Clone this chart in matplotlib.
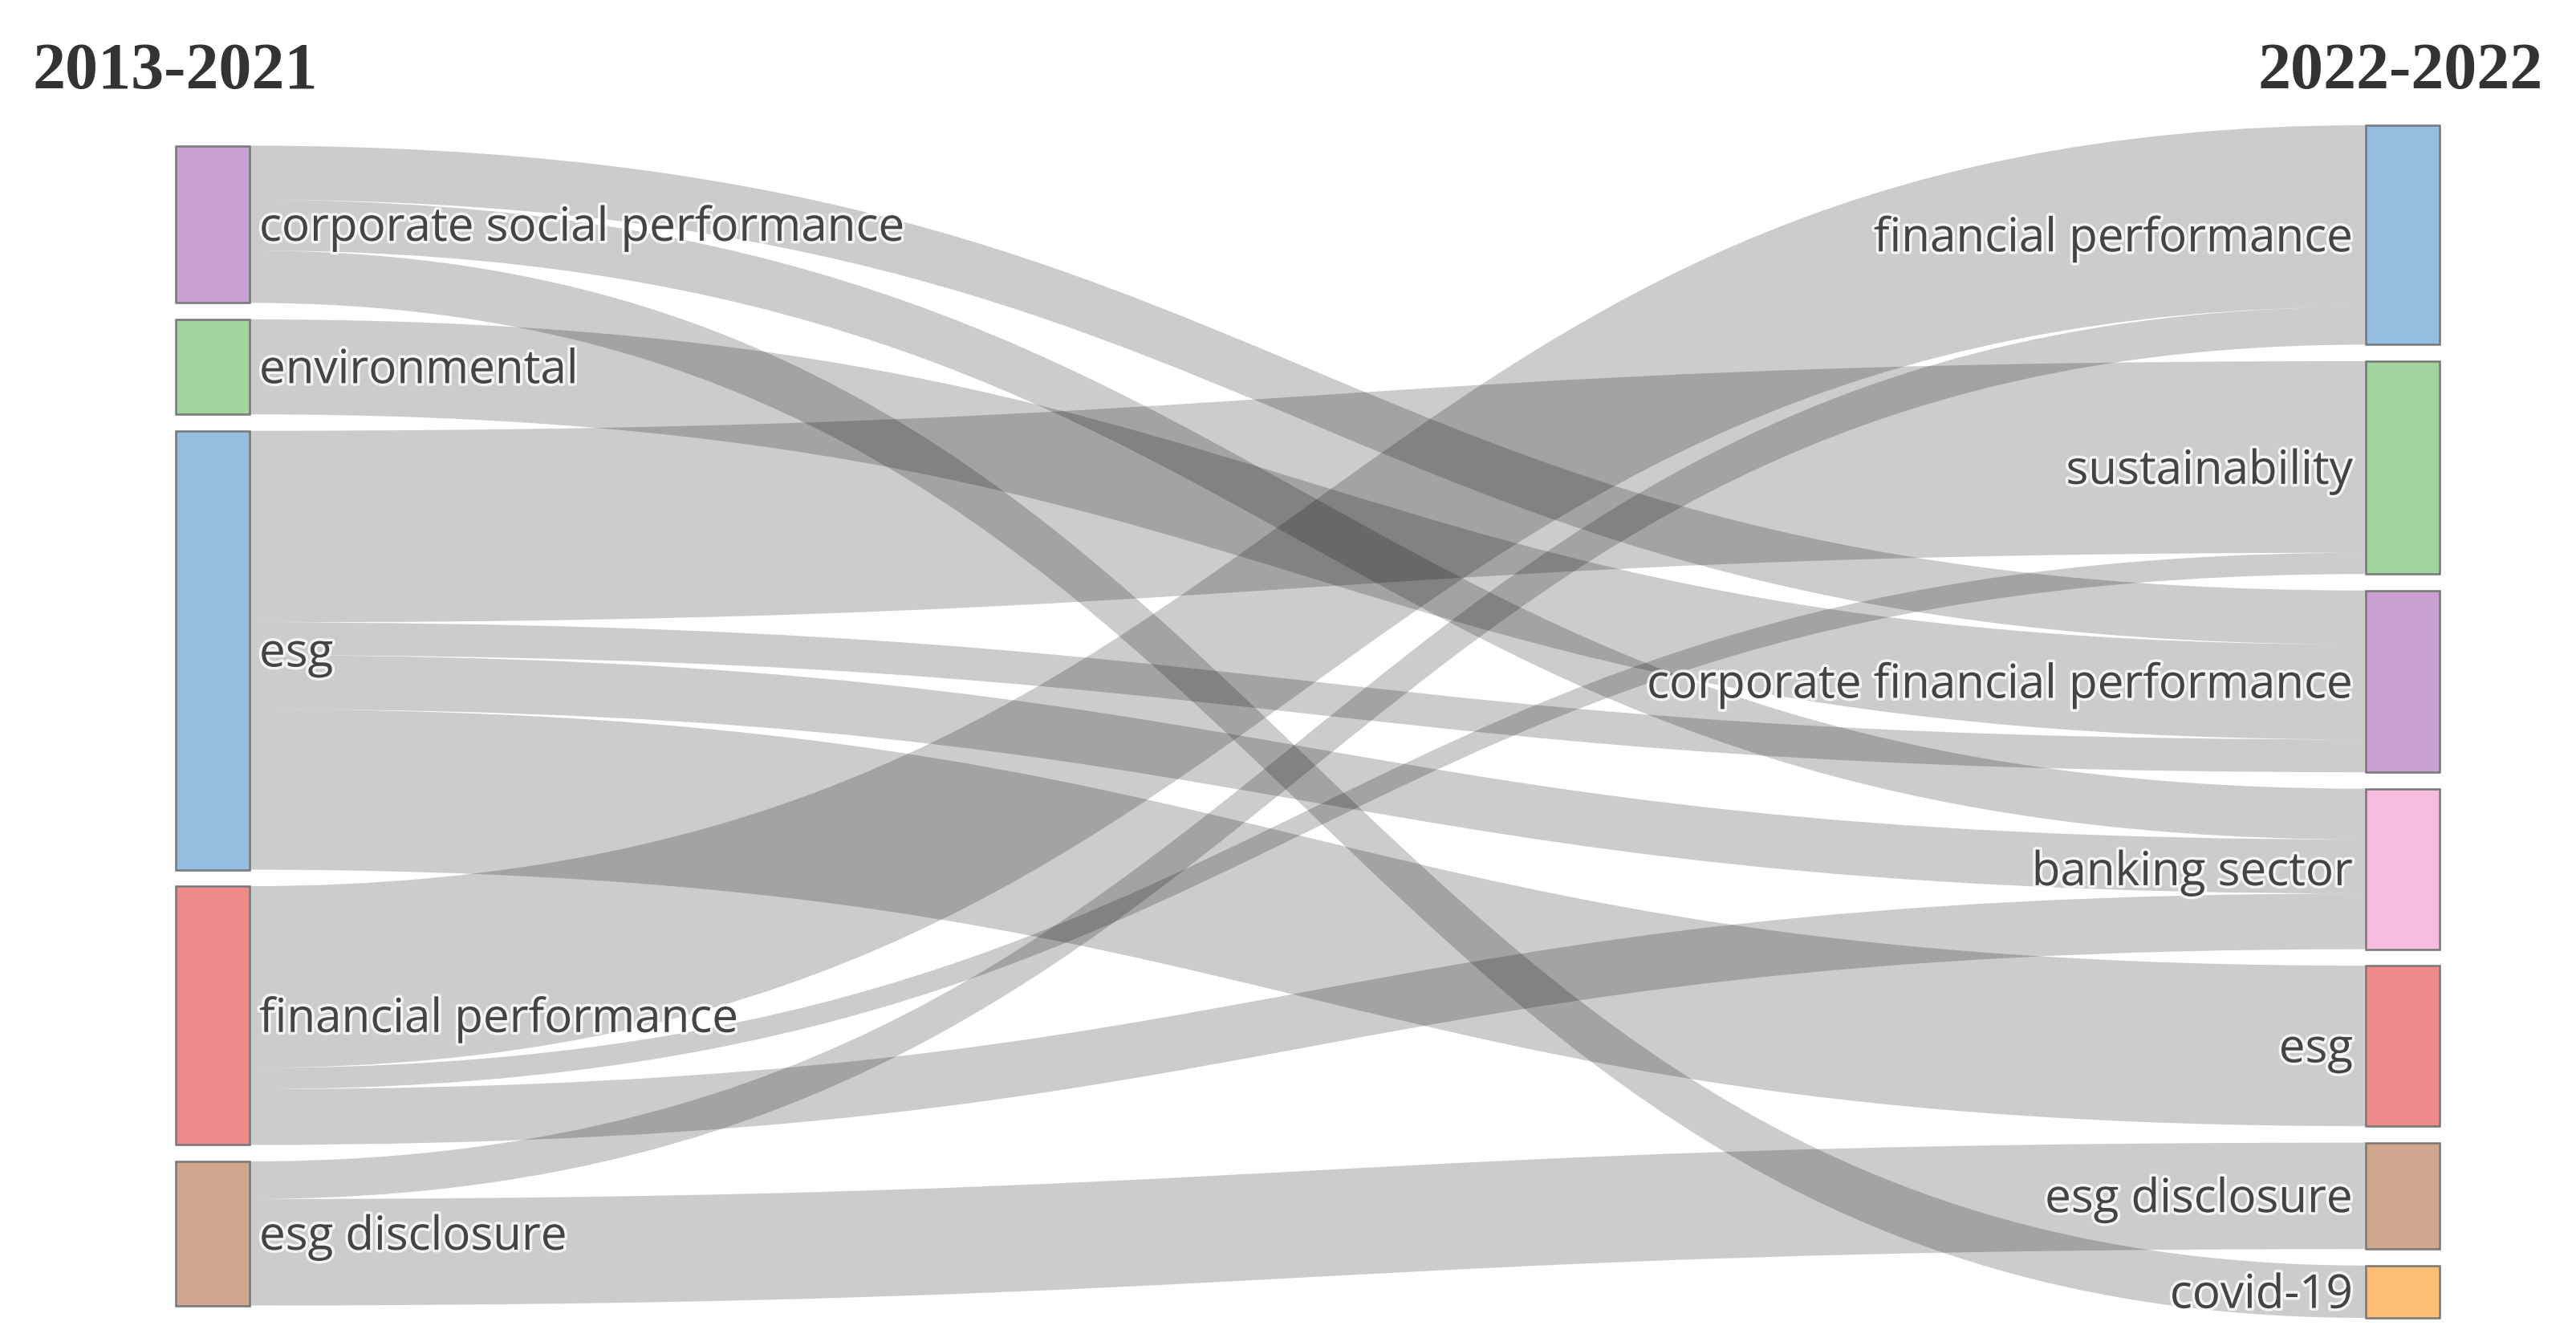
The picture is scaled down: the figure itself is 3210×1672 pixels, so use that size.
"""
Two-period keyword Sankey (2013-2021 -> 2022-2022).

Saves out.png at 3210x1672.
"""

import numpy as np
import matplotlib
matplotlib.use("Agg")
import matplotlib.pyplot as plt
import matplotlib.patheffects as pe
from matplotlib.patches import PathPatch, Rectangle
from matplotlib.path import Path

W, H, DPI = 3210, 1672, 100

LEFT_TITLE = "2013-2021"
RIGHT_TITLE = "2022-2022"

# Keywords of the first period (left column)
left_nodes = [
    "corporate social performance", "environmental", "esg",
    "financial performance", "esg disclosure",
]

# Keywords of the second period (right column)
right_nodes = [
    "financial performance", "sustainability", "corporate financial performance",
    "banking sector", "esg", "esg disclosure", "covid-19",
]

# Links: index into left_nodes -> index into right_nodes, with weight
link_source = [0, 0, 0, 1, 2, 2, 2, 2, 3, 3, 3, 4, 4]
link_target = [2, 3, 6, 2, 1, 2, 3, 4, 0, 1, 3, 0, 5]
link_value = [33, 31, 32, 58, 117, 20, 33, 98, 111, 13, 34, 23, 65]

# Node fill colours as they look on the white page
left_colours = ["#c9a1d3", "#9fd49f", "#95bddf", "#f08a8a", "#d1a68e"]
right_colours = ["#95bddf", "#9fd49f", "#c9a1d3", "#f6bddf",
                 "#f08a8a", "#d1a68e", "#fdbd74"]

# Layout in output pixels
TOP, BOTTOM = 156, 1642
PAD = 20.5
LEFT_SHIFT = 5
NODE_W = 92
LEFT_X = 219
RIGHT_X = 2948
LABEL_DY = 5
LABEL_FONT = "Open Sans"
TITLE_FONT = "Liberation Serif"


def column_positions(totals, scale, shift=0.0):
    """Top and bottom y of every node in a column, centred in the plot area."""
    span = totals.sum() * scale + (len(totals) - 1) * PAD
    y = TOP + (BOTTOM - TOP - span) / 2 + shift
    tops, bottoms = [], []
    for t in totals:
        tops.append(y)
        bottoms.append(y + t * scale)
        y += t * scale + PAD
    return np.array(tops), np.array(bottoms)


def link_path(x0, x1, y0_top, y0_bot, y1_top, y1_bot):
    """Ribbon between two nodes, with the plotly style cubic curve."""
    xm = (x0 + x1) / 2
    verts = [
        (x0, y0_top), (xm, y0_top), (xm, y1_top), (x1, y1_top),
        (x1, y1_bot), (xm, y1_bot), (xm, y0_bot), (x0, y0_bot),
        (x0, y0_top),
    ]
    codes = [
        Path.MOVETO, Path.CURVE4, Path.CURVE4, Path.CURVE4,
        Path.LINETO, Path.CURVE4, Path.CURVE4, Path.CURVE4,
        Path.CLOSEPOLY,
    ]
    return Path(verts, codes)


def main():
    src = np.array(link_source)
    tgt = np.array(link_target)
    val = np.array(link_value, dtype=float)

    left_tot = np.bincount(src, weights=val, minlength=len(left_nodes))
    right_tot = np.bincount(tgt, weights=val, minlength=len(right_nodes))

    # Same value-to-pixel scale for both columns, set by the fuller one
    scale = min(
        (BOTTOM - TOP - (len(tot) - 1) * PAD) / tot.sum()
        for tot in (left_tot, right_tot)
    )
    l_top, l_bot = column_positions(left_tot, scale, LEFT_SHIFT)
    r_top, r_bot = column_positions(right_tot, scale)
    l_mid = (l_top + l_bot) / 2
    r_mid = (r_top + r_bot) / 2

    # Stack links on each node: by target position at the source, by source position at the target
    src_off = np.zeros(len(val))
    tgt_off = np.zeros(len(val))
    for i in range(len(left_nodes)):
        idx = sorted(np.where(src == i)[0], key=lambda j: r_mid[tgt[j]])
        y = l_top[i]
        for j in idx:
            src_off[j] = y
            y += val[j] * scale
    for i in range(len(right_nodes)):
        idx = sorted(np.where(tgt == i)[0], key=lambda j: l_mid[src[j]])
        y = r_top[i]
        for j in idx:
            tgt_off[j] = y
            y += val[j] * scale

    fig = plt.figure(figsize=(W / DPI, H / DPI), dpi=DPI)
    ax = fig.add_axes([0, 0, 1, 1])
    ax.set_xlim(0, W)
    ax.set_ylim(H, 0)
    ax.axis("off")

    x0 = LEFT_X + NODE_W
    x1 = RIGHT_X
    for j in range(len(val)):
        h = val[j] * scale
        path = link_path(x0, x1, src_off[j], src_off[j] + h, tgt_off[j], tgt_off[j] + h)
        ax.add_patch(PathPatch(path, facecolor=(0, 0, 0, 0.2), edgecolor="none", zorder=1))

    halo = [pe.withStroke(linewidth=5, foreground="white", alpha=0.8)]

    for i, name in enumerate(left_nodes):
        ax.add_patch(Rectangle((LEFT_X, l_top[i]), NODE_W, l_bot[i] - l_top[i],
                               facecolor=left_colours[i], edgecolor="#777777",
                               linewidth=1.8, zorder=2))
        ax.text(x0 + 12, l_mid[i] + LABEL_DY, name, ha="left", va="center",
                fontsize=42, family=LABEL_FONT, color="#444444",
                path_effects=halo, zorder=3)

    for i, name in enumerate(right_nodes):
        ax.add_patch(Rectangle((RIGHT_X, r_top[i]), NODE_W, r_bot[i] - r_top[i],
                               facecolor=right_colours[i], edgecolor="#777777",
                               linewidth=1.8, zorder=2))
        ax.text(RIGHT_X - 16, r_mid[i] + LABEL_DY, name, ha="right", va="center",
                fontsize=42, family=LABEL_FONT, color="#444444",
                path_effects=halo, zorder=3)

    ax.text(41, 90, LEFT_TITLE, ha="left", va="center", fontsize=59,
            family=TITLE_FONT, fontweight="bold", color="#333333")
    ax.text(3169, 90, RIGHT_TITLE, ha="right", va="center", fontsize=59,
            family=TITLE_FONT, fontweight="bold", color="#333333")

    fig.savefig("out.png", dpi=DPI)
    plt.close(fig)


if __name__ == "__main__":
    main()
